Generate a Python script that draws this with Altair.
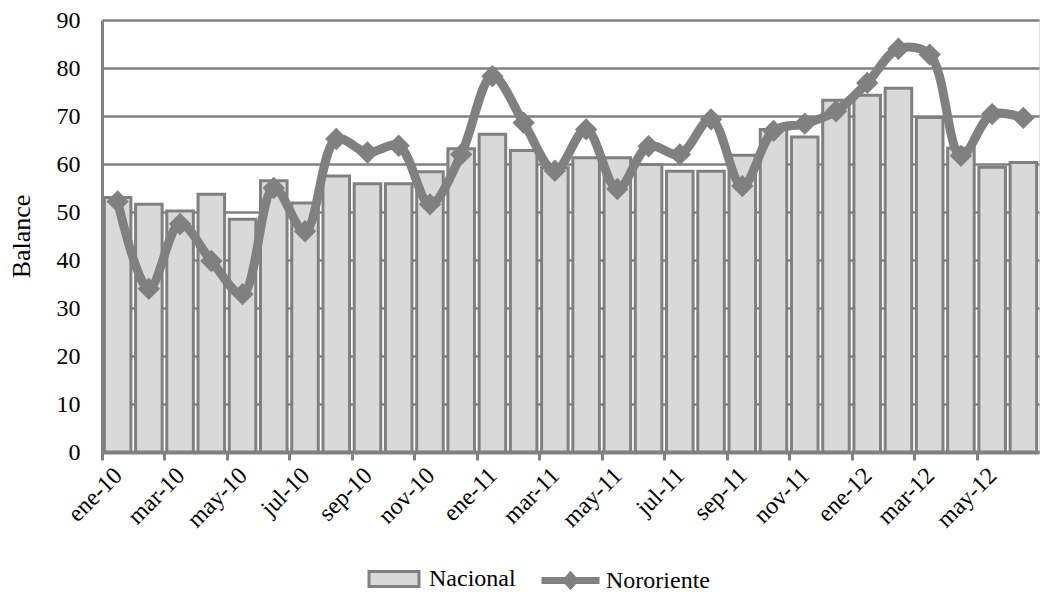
import altair as alt
import pandas as pd

meses = ["ene-10", "feb-10", "mar-10", "abr-10", "may-10", "jun-10", "jul-10", "ago-10", "sep-10", "oct-10", "nov-10", "dic-10",
         "ene-11", "feb-11", "mar-11", "abr-11", "may-11", "jun-11", "jul-11", "ago-11", "sep-11", "oct-11", "nov-11", "dic-11",
         "ene-12", "feb-12", "mar-12", "abr-12", "may-12", "jun-12"]
nacional = [53.0, 51.6, 50.2, 53.7, 48.5, 56.5, 51.9, 57.5, 55.9, 55.9, 58.4, 63.2,
            66.2, 62.8, 59.2, 61.3, 61.3, 59.9, 58.5, 58.5, 61.8, 67.2, 65.6, 73.3,
            74.3, 75.8, 69.7, 63.3, 59.3, 60.3]
nororiente = [52.2, 34.0, 47.5, 39.8, 32.9, 55.0, 46.0, 65.2, 62.4, 63.8, 51.6, 62.0,
              78.3, 68.6, 58.6, 67.2, 54.8, 63.7, 62.0, 69.3, 55.4, 66.9, 68.4, 71.0,
              76.9, 84.0, 82.8, 61.7, 70.4, 69.6]
etiquetas_x = meses[::2]
ticks_y = list(range(0, 91, 10))

df = pd.DataFrame({"mes": meses, "Nacional": nacional, "Nororiente": nororiente})

W = 937
H = 432
step = W / len(meses)
GRAY = "#808080"
FONT = "Liberation Serif"
FS = 24

x_enc = alt.X(
    "mes:N", sort=meses, title=None,
    scale=alt.Scale(paddingInner=0.15, paddingOuter=0.075),
    axis=alt.Axis(values=etiquetas_x, labelAngle=-45, labelAlign="right", labelBaseline="top",
                  tickOffset=-step / 2, labelOffset=step / 2 - 8, tickSize=8, tickWidth=3,
                  tickColor=GRAY, domainColor=GRAY, domainWidth=4, labelPadding=3,
                  labelFont=FONT, labelFontSize=FS, labelColor="black", grid=False),
)
y_scale = alt.Scale(domain=[0, 90], nice=False)
y_axis = alt.Axis(values=ticks_y, title="Balance", ticks=False, labelPadding=22,
                  domainColor=GRAY, domainWidth=3, gridColor=GRAY, gridWidth=2.5,
                  labelFont=FONT, labelFontSize=FS, labelColor="black",
                  titleFont=FONT, titleFontSize=26, titleFontWeight="normal", titleColor="black",
                  titlePadding=22)

base = alt.Chart(df)

bars = base.transform_fold(["Nacional"], as_=["serie", "valor"]).mark_bar(
    stroke=GRAY, strokeWidth=3
).encode(
    x=x_enc,
    y=alt.Y("valor:Q", scale=y_scale, axis=y_axis),
    fill=alt.Fill("serie:N", scale=alt.Scale(domain=["Nacional"], range=["#d9d9d9"]),
                  legend=alt.Legend(title=None, orient="none", legendX=280, legendY=547,
                                    symbolType="M-2.5,-0.75H2.5V0.75H-2.5Z", symbolSize=400,
                                    symbolStrokeColor=GRAY, symbolStrokeWidth=3,
                                    labelFont=FONT, labelFontSize=FS, labelColor="black",
                                    labelOffset=23)),
)

line = base.transform_fold(["Nororiente"], as_=["serie", "valor"]).mark_line(
    strokeWidth=9, interpolate="catmull-rom"
).encode(
    x=alt.X("mes:N", sort=meses),
    y=alt.Y("valor:Q", scale=y_scale),
    stroke=alt.Stroke("serie:N", scale=alt.Scale(domain=["Nororiente"], range=[GRAY]),
                      legend=alt.Legend(title=None, orient="none", legendX=455, legendY=547,
                                        symbolType="M-2.9,0H2.9M-0.4,0L0,-0.45L0.4,0L0,0.45Z",
                                        symbolSize=400, symbolStrokeWidth=7,
                                        symbolFillColor=GRAY,
                                        labelFont=FONT, labelFontSize=FS, labelColor="black",
                                        labelOffset=22)),
)

points = base.transform_fold(["Nororiente"], as_=["serie", "valor"]).mark_point(
    shape="diamond", filled=True, size=500, color=GRAY, opacity=1
).encode(
    x=alt.X("mes:N", sort=meses),
    y=alt.Y("valor:Q", scale=y_scale),
)

chart = alt.layer(bars, line, points).properties(
    width=W, height=H, padding={"left": 0, "top": 0, "right": 0, "bottom": 0}
).configure_view(stroke=None).configure(font=FONT).configure_axis(
    labelFont=FONT, titleFont=FONT
).configure_legend(labelFont=FONT)

chart.save("out.html", embed_options={"renderer": "svg", "actions": False})
